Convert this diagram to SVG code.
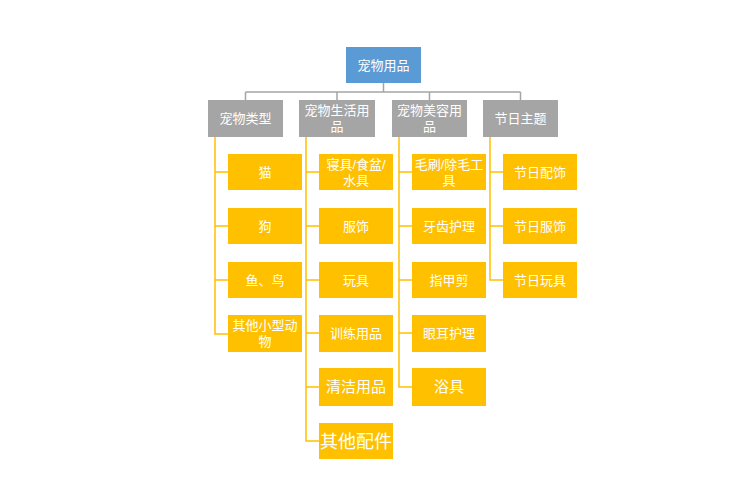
<svg xmlns="http://www.w3.org/2000/svg" width="750" height="500" viewBox="0 0 750 500">
<style>
text{font-family:"Liberation Sans","Noto Sans CJK SC",sans-serif;font-size:13px;fill:#fff;text-anchor:middle}
.r{fill:#5b9bd5}.g{fill:#a5a5a5}.y{fill:#ffc000}
.c line,.c path{fill:none;stroke-width:1.5}
.gl{stroke:#a5a5a5}.yl{stroke:#ffc000}
</style>
<rect width="750" height="500" fill="#fff"/>
<g class="c">
<path class="gl" d="M383.5 83V92M245.5 92H520.5M245.5 92V100M337 92V100M429.5 92V100M520.5 92V100"/>
<path class="yl" d="M215 137V334H228M215 172H228M215 226H228M215 280H228"/>
<path class="yl" d="M306 137V441H319M306 172H319M306 226H319M306 280H319M306 333H319M306 387H319"/>
<path class="yl" d="M399 137V387H412M399 172H412M399 226H412M399 280H412M399 333H412"/>
<path class="yl" d="M490 137V280H503M490 172H503M490 226H503"/>
</g>
<g id="root"><rect class="r" x="346" y="47" width="75" height="36"/><text x="383.5" y="70">宠物用品</text></g>
<g id="n1"><rect class="g" x="208" y="100" width="75" height="37"/><text x="245.5" y="123">宠物类型</text></g>
<g id="n2"><rect class="g" x="299" y="100" width="76" height="37"/><text x="337" y="115">宠物生活用</text><text x="337" y="131">品</text></g>
<g id="n3"><rect class="g" x="392" y="100" width="75" height="37"/><text x="429.5" y="115">宠物美容用</text><text x="429.5" y="131">品</text></g>
<g id="n4"><rect class="g" x="483" y="100" width="75" height="37"/><text x="520.5" y="123">节日主题</text></g>
<g id="a1"><rect class="y" x="228" y="154" width="74" height="36"/><text x="265" y="177">猫</text></g>
<g id="a2"><rect class="y" x="228" y="208" width="74" height="36"/><text x="265" y="231">狗</text></g>
<g id="a3"><rect class="y" x="228" y="262" width="74" height="36"/><text x="265" y="285">鱼、鸟</text></g>
<g id="a4"><rect class="y" x="228" y="315" width="74" height="37"/><text x="265" y="330">其他小型动</text><text x="265" y="346">物</text></g>
<g id="b1"><rect class="y" x="319" y="154" width="74" height="36"/><text x="356" y="169">寝具/食盆/</text><text x="356" y="185">水具</text></g>
<g id="b2"><rect class="y" x="319" y="208" width="74" height="36"/><text x="356" y="231">服饰</text></g>
<g id="b3"><rect class="y" x="319" y="262" width="74" height="36"/><text x="356" y="285">玩具</text></g>
<g id="b4"><rect class="y" x="319" y="315" width="74" height="37"/><text x="356" y="338">训练用品</text></g>
<g id="b5"><rect class="y" x="319" y="368" width="74" height="38"/><text x="356" y="392" style="font-size:15px">清洁用品</text></g>
<g id="b6"><rect class="y" x="319" y="423" width="74" height="36"/><text x="356" y="448" style="font-size:18px">其他配件</text></g>
<g id="c1"><rect class="y" x="412" y="154" width="74" height="36"/><text x="449" y="169">毛刷/除毛工</text><text x="449" y="185">具</text></g>
<g id="c2"><rect class="y" x="412" y="208" width="74" height="36"/><text x="449" y="231">牙齿护理</text></g>
<g id="c3"><rect class="y" x="412" y="262" width="74" height="36"/><text x="449" y="285">指甲剪</text></g>
<g id="c4"><rect class="y" x="412" y="315" width="74" height="37"/><text x="449" y="338">眼耳护理</text></g>
<g id="c5"><rect class="y" x="412" y="368" width="74" height="38"/><text x="449" y="392" style="font-size:15px">浴具</text></g>
<g id="d1"><rect class="y" x="503" y="154" width="74" height="36"/><text x="540" y="177">节日配饰</text></g>
<g id="d2"><rect class="y" x="503" y="208" width="74" height="36"/><text x="540" y="231">节日服饰</text></g>
<g id="d3"><rect class="y" x="503" y="262" width="74" height="36"/><text x="540" y="285">节日玩具</text></g>
</svg>
